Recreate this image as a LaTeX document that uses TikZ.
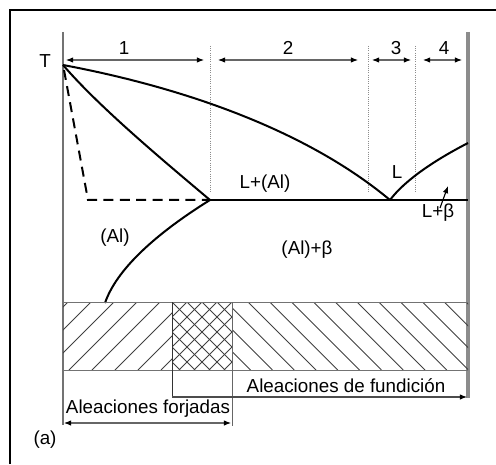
\documentclass[tikz,border=0pt]{standalone}
\usepackage{fontspec}
\setmainfont{Liberation Sans}
\usetikzlibrary{arrows.meta}
\begin{document}
\begin{tikzpicture}[x=0.5pt,y=-0.5pt,
  lbl/.style={inner sep=0pt,font=\fontsize{9.4}{11}\selectfont},
  curve/.style={line width=1pt,line join=round},
  dimarr/.style={draw=black!60,line width=0.55pt,{Latex[length=3.6pt,width=2.8pt,color=black]}-{Latex[length=3.6pt,width=2.8pt,color=black]}},
  onearr/.style={draw=black!60,line width=0.55pt,-{Latex[length=3.6pt,width=2.8pt,color=black]}},
  dotv/.style={draw=black!45,line width=0.45pt,dash pattern=on 0.5pt off 0.6pt},
  hatch/.style={draw=black!75,line width=0.45pt},
  edge/.style={draw=black!55,line width=0.5pt}]
\useasboundingbox (0,0) rectangle (496,464);
% frame
\draw[line width=0.8pt] (10,464) -- (10,10) -- (497,10);
% axes
\draw[draw=black!55,line width=0.8pt] (63,32) -- (63,425);
\draw[draw=black!45,line width=1.6pt] (468,32) -- (468,398);
% key points
\coordinate (T) at (63,65);
\coordinate (M) at (210,200);
\coordinate (E) at (390,200);
\coordinate (R) at (468,200);
\coordinate (D) at (88,200);
\coordinate (S) at (105,303);
\coordinate (Rt) at (468,143);
% dotted verticals
\foreach \xx in {210,368,415} \draw[dotv] (\xx,46) -- (\xx,193);
% top arrows and numbers
\coordinate (a1) at (66,60); \coordinate (b1) at (204,60);
\coordinate (a2) at (218,60); \coordinate (b2) at (358,60);
\coordinate (a3) at (372,60); \coordinate (b3) at (411,60);
\coordinate (a4) at (423,60); \coordinate (b4) at (462,60);
\draw[dimarr] (a1) -- (b1);
\draw[dimarr] (a2) -- (b2);
\draw[dimarr] (a3) -- (b3);
\draw[dimarr] (a4) -- (b4);
\node[lbl] (n1) at (124,48) {1};
\node[lbl] (n2) at (288,48) {2};
\node[lbl] (n3) at (396,48) {3};
\node[lbl] (n4) at (444,48) {4};
\node[lbl] (t) at (45,61) {T};
% liquidus
\draw[curve] (T) .. controls (170,85) and (300,125) .. (E);
% solidus
\draw[curve] (T) .. controls (100,108) and (165,162) .. (M);
% dashed
\draw[line width=1pt,dash pattern=on 5pt off 3.2pt] (64,70) -- (D) -- (M);
% eutectic
\draw[curve] (M) -- (R);
% solvus
\draw[curve] (M) .. controls (165,228) and (118,265) .. (S);
% right liquidus
\draw[curve] (E) .. controls (405,180) and (435,160) .. (Rt);
% phase labels
\node[lbl] (lal) at (265,184) {L+(Al)};
\node[lbl] (ll) at (397,172) {L};
\node[lbl] (lb) at (438,213) {L+β};
\node[lbl] (al) at (115,238) {(Al)};
\node[lbl] (alb) at (307,250) {(Al)+β};
\coordinate (lbt) at (440,208);
\coordinate (lbh) at (448,186);
\draw[onearr,draw=black] (lbt) -- (lbh);
% hatch band
\begin{scope}
\clip (63,302) rectangle (172,370);
\foreach \k in {-3,...,8} \draw[hatch] ({68+23*\k-68},370) -- ({68+23*\k},302);
\end{scope}
\begin{scope}
\clip (172,302) rectangle (232,370);
\foreach \k in {-6,...,10} {
  \draw[hatch] ({172+15*\k},302) -- ({172+15*\k+68},370);
  \draw[hatch] ({172+15*\k+7},370) -- ({172+15*\k+75},302);
}
\end{scope}
\begin{scope}
\clip (232,302) rectangle (468,370);
\foreach \k in {-5,...,12} \draw[hatch] ({248+21.8*\k},302) -- ({248+21.8*\k+68},370);
\end{scope}
\draw[edge] (63,302) -- (468,302);
\draw[edge] (63,370) -- (468,370);
\draw[draw=black!80,line width=0.5pt] (172,302) -- (172,397);
\draw[draw=black!60,line width=0.5pt] (232,302) -- (232,426);
% bottom arrows
\coordinate (fa) at (172,397); \coordinate (fb) at (467,397);
\draw[onearr,draw=black!70] (fa) -- (fb);
\coordinate (ga) at (64,423); \coordinate (gb) at (231,423);
\draw[dimarr] (ga) -- (gb);
\node[lbl] (fund) at (346,386) {Aleaciones de fundición};
\node[lbl] (forj) at (148,409) {Aleaciones forjadas};
\node[lbl] (a) at (45,440) {(a)};
\end{tikzpicture}
\end{document}
